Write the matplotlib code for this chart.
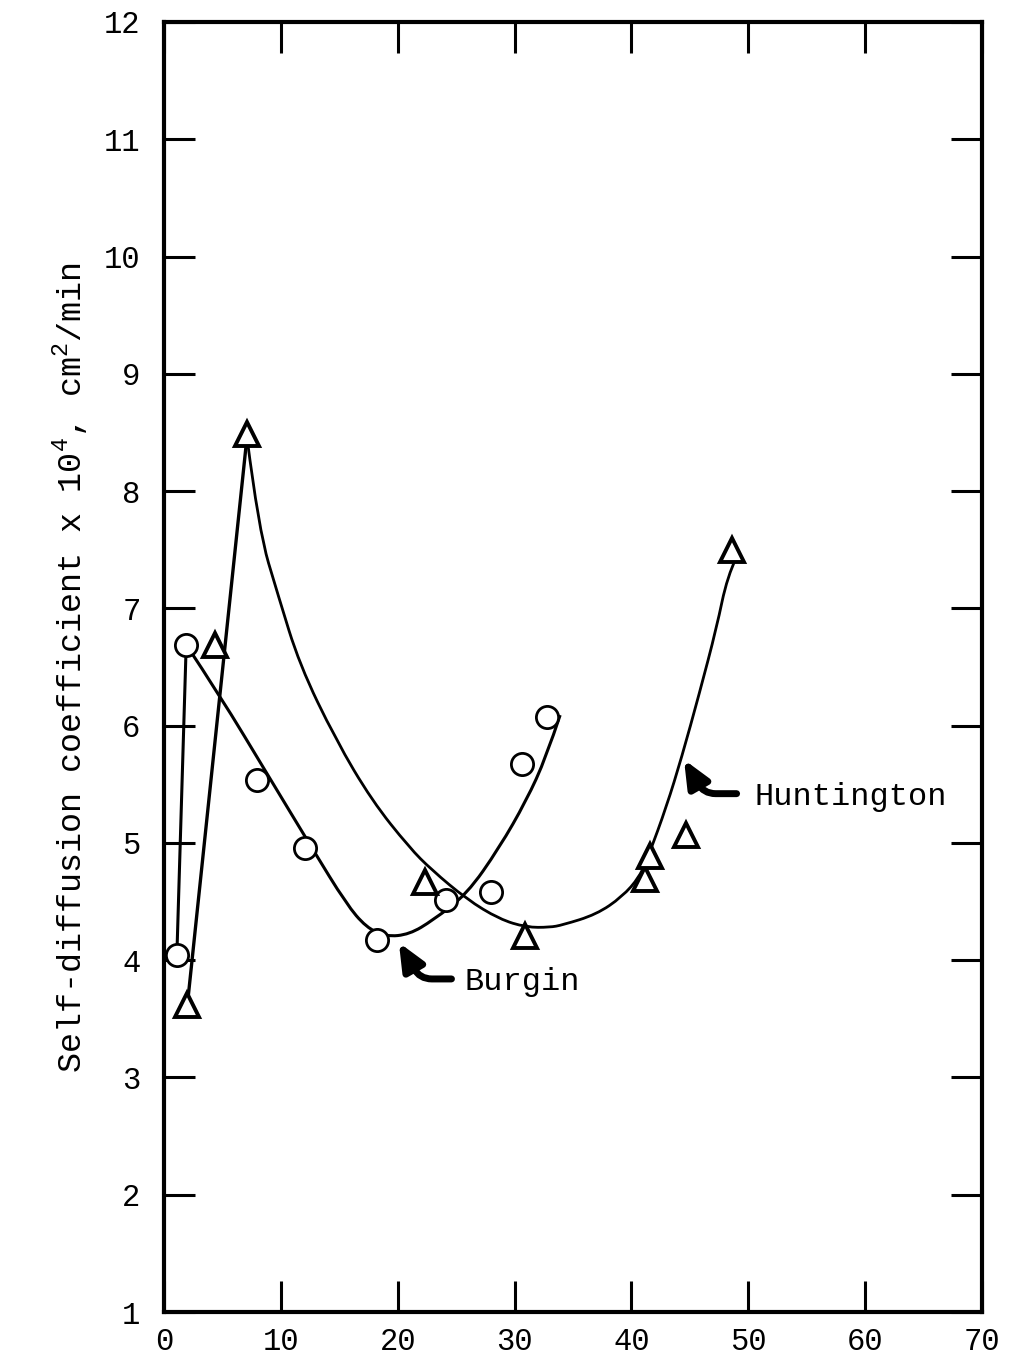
import matplotlib
matplotlib.use("Agg")
import matplotlib.pyplot as plt
from matplotlib.path import Path
from matplotlib.patches import PathPatch

plt.rcParams["font.family"] = ["Liberation Mono", "DejaVu Sans Mono"]
plt.rcParams["mathtext.fontset"] = "custom"
plt.rcParams["mathtext.rm"] = "Liberation Mono"

# measured points (concentration vs. self-diffusion coefficient x 10^4)
burgin_x = [1.1, 1.9, 8.0, 12.1, 18.2, 24.1, 28.0, 30.6, 32.8]
burgin_y = [4.04, 6.69, 5.54, 4.96, 4.17, 4.51, 4.58, 5.67, 6.07]

huntington_x = [2.0, 4.4, 7.1, 22.3, 30.9, 41.2, 41.6, 44.7, 48.6]
huntington_y = [3.62, 6.69, 8.49, 4.67, 4.21, 4.69, 4.89, 5.07, 7.50]

# hand-drawn trend curves: straight rise, then a smooth run
burgin_rise_x = [1.1, 1.9]
burgin_rise_y = [4.04, 6.69]
burgin_curve_x = [1.9, 4.7, 9.0, 12.7, 15.6, 17.3, 19.0, 21.0, 23.0,
                  25.9, 28.7, 31.0, 32.7, 33.9]
burgin_curve_y = [6.69, 6.27, 5.56, 4.95, 4.48, 4.28, 4.20, 4.22, 4.34,
                  4.56, 4.96, 5.36, 5.73, 6.09]

huntington_rise_x = [2.0, 7.1]
huntington_rise_y = [3.62, 8.46]
huntington_curve_x = [7.1, 8.1, 9.8, 11.6, 14.7, 17.8, 21.0, 22.9, 25.9,
                      28.7, 31.0, 33.0, 34.1, 37.0, 39.2, 40.7, 41.5, 43.0,
                      44.3, 45.8, 47.3, 48.2, 49.0]
huntington_curve_y = [8.46, 7.67, 7.10, 6.52, 5.88, 5.36, 4.96, 4.77,
                      4.52, 4.35, 4.28, 4.28, 4.30, 4.39, 4.54, 4.71, 4.90,
                      5.31, 5.73, 6.27, 6.84, 7.27, 7.44]

x_ticks = [0, 10, 20, 30, 40, 50, 60, 70]
y_ticks = [1, 2, 3, 4, 5, 6, 7, 8, 9, 10, 11, 12]


def smooth_path(xs, ys):
    """Quadratic B-spline path through the midpoints of the given knots."""
    pts = list(zip(xs, ys))
    verts = [pts[0]]
    codes = [Path.MOVETO]
    for i in range(1, len(pts) - 1):
        if i < len(pts) - 2:
            end = ((pts[i][0] + pts[i + 1][0]) / 2,
                   (pts[i][1] + pts[i + 1][1]) / 2)
        else:
            end = pts[-1]
        verts += [pts[i], end]
        codes += [Path.CURVE3, Path.CURVE3]
    return Path(verts, codes)


fig = plt.figure(figsize=(10.13, 13.56), dpi=100)
ax = fig.add_axes([164 / 1013, 1 - 1312 / 1356, 818 / 1013, 1290 / 1356])

ax.plot(burgin_rise_x, burgin_rise_y, color="black", lw=2.2,
        solid_capstyle="round", zorder=2)
ax.plot(huntington_rise_x, huntington_rise_y, color="black", lw=2.4,
        solid_capstyle="round", zorder=2)
ax.add_patch(PathPatch(smooth_path(burgin_curve_x, burgin_curve_y),
                       facecolor="none", edgecolor="black", lw=2.2, zorder=2))
ax.add_patch(PathPatch(smooth_path(huntington_curve_x, huntington_curve_y),
                       facecolor="none", edgecolor="black", lw=2.0, zorder=2))

ax.plot(burgin_x, burgin_y, linestyle="none", marker="o", markersize=16,
        markerfacecolor="white", markeredgecolor="black",
        markeredgewidth=2.0, zorder=3)
ax.plot(huntington_x, huntington_y, linestyle="none", marker="^",
        markersize=17, markerfacecolor="white", markeredgecolor="black",
        markeredgewidth=2.8, zorder=3)

# curve labels with bent pointers
arrow_kw = dict(arrowstyle="-|>,head_length=0.8,head_width=0.35",
                color="black", lw=5, mutation_scale=20,
                shrinkA=0, shrinkB=0,
                connectionstyle="angle,angleA=0,angleB=120,rad=12")
ax.annotate("", xy=(20.1, 4.15), xytext=(24.6, 3.84), arrowprops=arrow_kw)
ax.annotate("", xy=(44.5, 5.71), xytext=(49.0, 5.42), arrowprops=arrow_kw)

ax.text(25.7, 3.81, "Burgin", fontsize=23, ha="left", va="center")
ax.text(50.5, 5.39, "Huntington", fontsize=23, ha="left", va="center")

ax.set_xlim(0, 70)
ax.set_ylim(1, 12)
ax.set_xticks(x_ticks)
ax.set_yticks(y_ticks)

ax.tick_params(axis="both", direction="in", length=22, width=2.2,
               top=True, right=True, labelsize=22)
ax.tick_params(axis="x", pad=11)
ax.tick_params(axis="y", pad=17)

for spine in ax.spines.values():
    spine.set_linewidth(3)

fig.text(70 / 1013, 1 - 668 / 1356,
         r"Self-diffusion coefficient x 10$^{\mathrm{4}}$, cm$^{\mathrm{2}}$/min",
         rotation=90, ha="center", va="center", fontsize=24)

fig.savefig("out.png", dpi=100)
